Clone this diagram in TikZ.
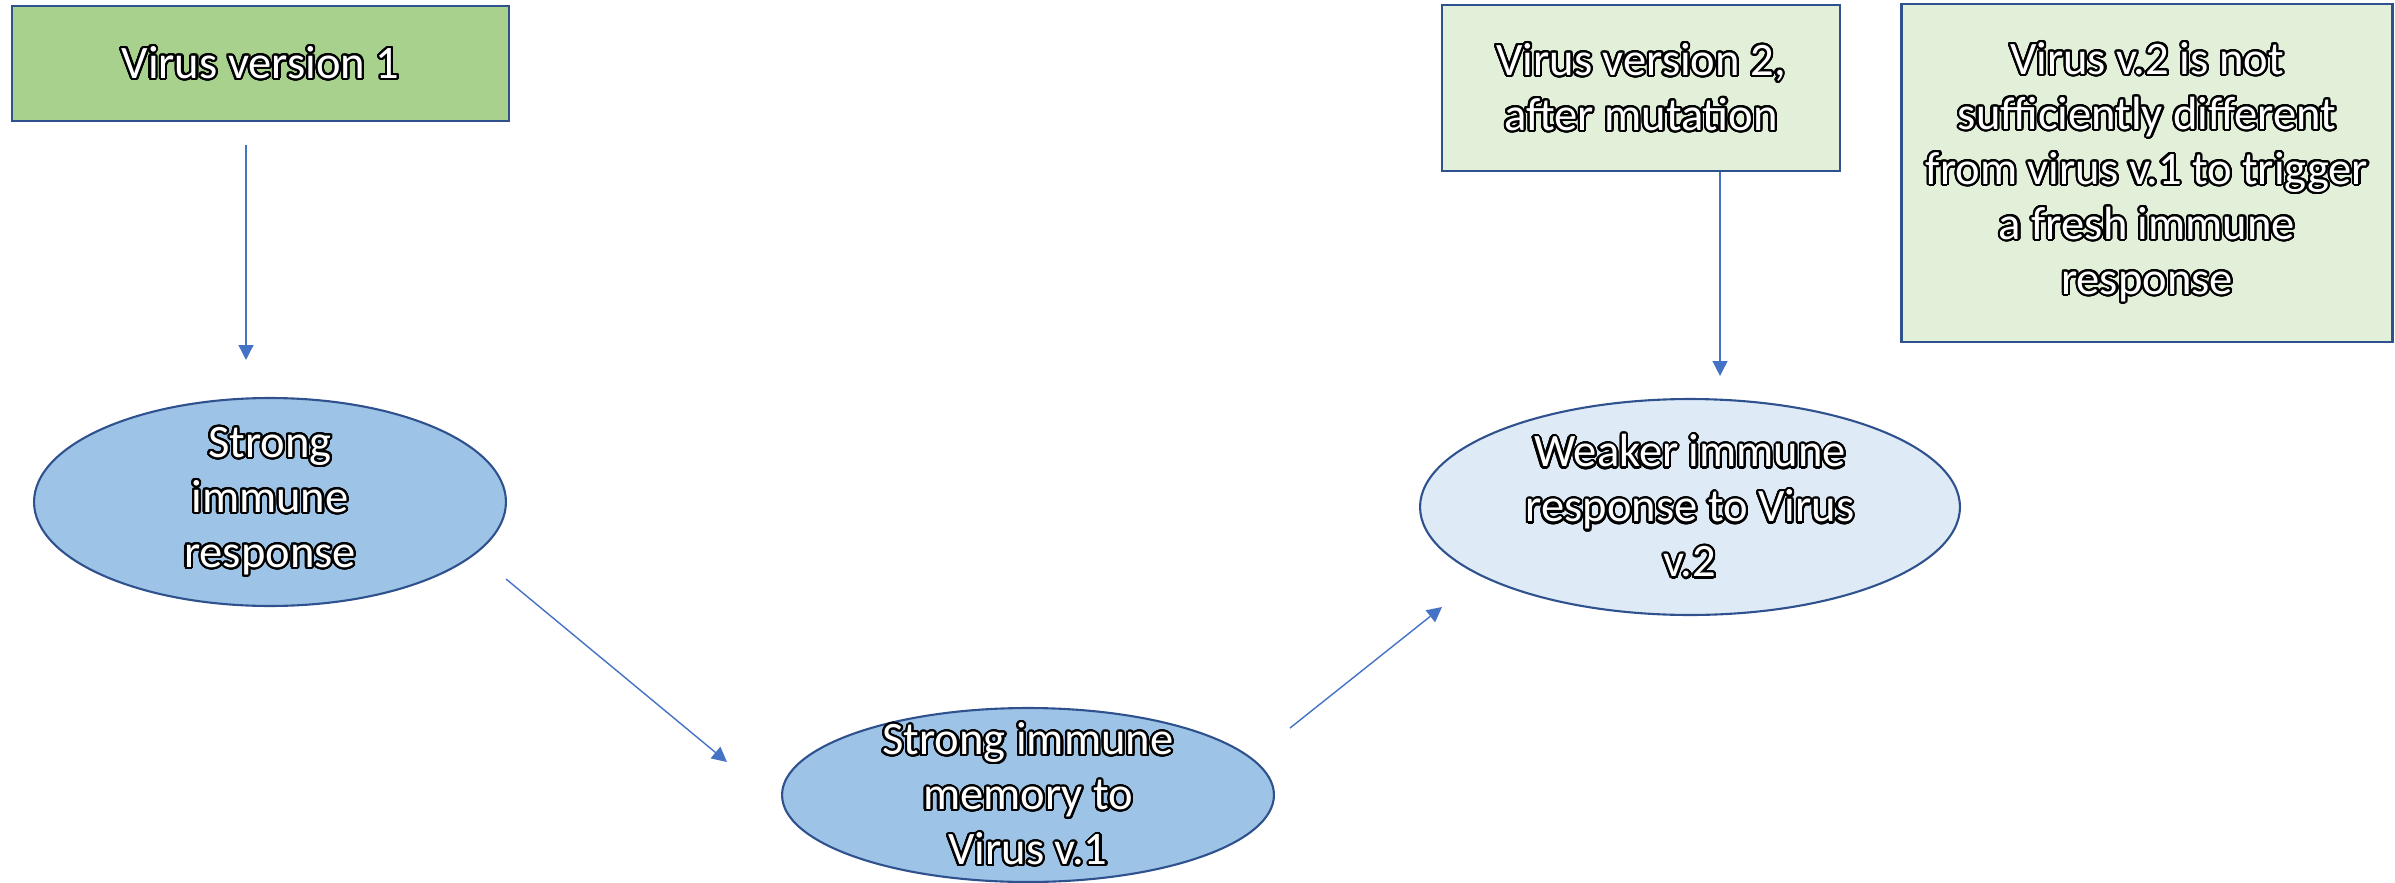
\documentclass[tikz,border=0pt]{standalone}
\usepackage{fontspec}
\setmainfont{Carlito}
\usepackage{contour}
\contourlength{1.2pt}
\contournumber{32}
\usetikzlibrary{arrows.meta, shapes.geometric}

\definecolor{shapeline}{HTML}{2F528F}
\definecolor{arrowblue}{HTML}{4472C4}
\definecolor{greendark}{HTML}{A9D18E}
\definecolor{greenlight}{HTML}{E2F0D9}
\definecolor{bluedark}{HTML}{9DC3E6}
\definecolor{bluelight}{HTML}{DEEBF7}

\newcommand{\otxt}[1]{\contour{black}{#1}}

\begin{document}
\begin{tikzpicture}[
    x=0.02cm, y=-0.02cm,
    txt/.style={align=center, text=white, font=\fontsize{26.5}{31.3}\selectfont},
    box/.style={txt, draw=shapeline, line width=1.6pt, inner sep=0pt},
    ell/.style={ellipse, draw=shapeline, line width=1.2pt, inner sep=0pt},
    arr/.style={-{Triangle[length=8.5pt, width=8.5pt]}, draw=arrowblue, line width=0.8pt},
  ]
    \useasboundingbox (0,0) rectangle (2395,882);

    % Virus boxes
    \node[box, fill=greendark, minimum width=9.94cm, minimum height=2.3cm] (virus1) at (260.5,63.5)
      {\otxt{Virus version 1}};
    \node[box, fill=greenlight, minimum width=7.96cm, minimum height=3.32cm] (virus2) at (1641,88)
      {\otxt{Virus version 2,}\\\otxt{after mutation}};
    \node[box, fill=greenlight, minimum width=9.82cm, minimum height=6.76cm] (note) at (2147,173)
      {\otxt{Virus v.2 is not}\\\otxt{sufficiently different}\\\otxt{from virus v.1 to trigger}\\\otxt{a fresh immune}\\\otxt{response}};

    % Immune responses
    \node[ell, fill=bluedark, minimum width=9.44cm, minimum height=4.16cm] (strong) at (270,502) {};
    \node[txt] (strongtxt) at (strong) {\otxt{Strong}\\\otxt{immune}\\\otxt{response}};

    \node[ell, fill=bluedark, minimum width=9.84cm, minimum height=3.48cm] (memory) at (1028,795) {};
    \node[txt] (memorytxt) at (memory) {\otxt{Strong immune}\\\otxt{memory to}\\\otxt{Virus v.1}};

    \node[ell, fill=bluelight, minimum width=10.8cm, minimum height=4.32cm] (weak) at (1690,507) {};
    \node[txt] (weaktxt) at (weak) {\otxt{Weaker immune}\\\otxt{response to Virus}\\\otxt{v.2}};

    % Arrows
    \draw[arr] ([shift={(-14.5,23)}]virus1.south) -- ([shift={(-24,-37)}]strong.north);
    \draw[arr] ([shift={(236,77)}]strong.center) -- ([shift={(-301,-33)}]memory.center);
    \draw[arr] ([shift={(262,-67)}]memory.center) -- ([shift={(-248,100)}]weak.center);
    \draw[arr] ([shift={(79,0)}]virus2.south) -- ([shift={(30,-22)}]weak.north);
  \end{tikzpicture}
\end{document}
